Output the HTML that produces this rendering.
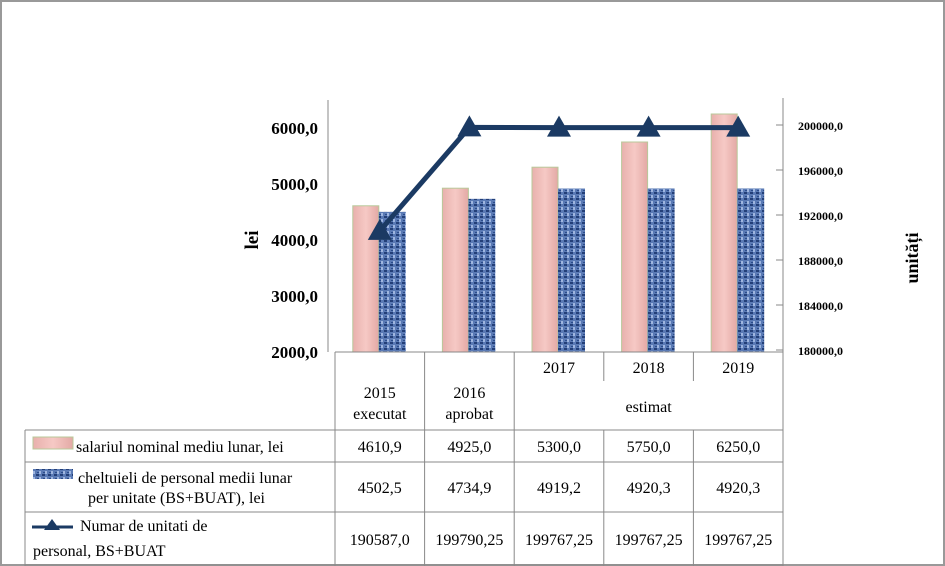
<!DOCTYPE html>
<html><head><meta charset="utf-8"><style>
body{margin:0;background:#fff;}
svg{display:block;}
svg text{font-family:"Liberation Serif",serif;}
</style></head><body>
<svg width="945" height="566" viewBox="0 0 945 566" font-family="Liberation Serif, serif">
<defs>
<linearGradient id="pinkG" x1="0" x2="1"><stop offset="0" stop-color="#e8b0ac"/><stop offset="0.5" stop-color="#f6c9c5"/><stop offset="1" stop-color="#e3a9a5"/></linearGradient>
<pattern id="blueP" width="6" height="6" patternUnits="userSpaceOnUse"><rect width="6" height="6" fill="#5a7ab5"/><rect x="0" y="0" width="3" height="2" fill="#233f78"/><rect x="3" y="3" width="2" height="3" fill="#9fb6e0"/><rect x="1" y="4" width="2" height="1" fill="#2c4c8a"/></pattern>
</defs>
<rect x="1" y="1" width="943" height="564" fill="#fff" stroke="#999" stroke-width="2"/>
<g id="plot"></g>
<text x="0" y="0" transform="translate(258,240) rotate(-90)" text-anchor="middle" font-weight="bold" font-size="19">lei</text>
<text x="0" y="0" transform="translate(918,258) rotate(-90)" text-anchor="middle" font-weight="bold" font-size="18">unități</text>
</svg>
<script>
const categories=["2015","2016","2017","2018","2019"];
const salary=[4610.9,4925.0,5300.0,5750.0,6250.0];
const costs=[4502.5,4734.9,4919.2,4920.3,4920.3];
const units=[190587.0,199790.25,199767.25,199767.25,199767.25];
const leftTicks=[2000,3000,4000,5000,6000];
const rightTicks=[180000,184000,188000,192000,196000,200000];
const salaryLabels=["4610,9","4925,0","5300,0","5750,0","6250,0"];
const costLabels=["4502,5","4734,9","4919,2","4920,3","4920,3"];
const unitLabels=["190587,0","199790,25","199767,25","199767,25","199767,25"];

const NS="http://www.w3.org/2000/svg";
const g=document.getElementById('plot');
const X0=335,X1=783,colW=(X1-X0)/5;
const yL=v=>352-(v-2000)*56/1000;
const yR=v=>350-(v-180000)*225/20000;
const cx=i=>X0+colW*(i+0.5);
function mk(tag,attrs,txt){const e=document.createElementNS(NS,tag);for(const k in attrs)e.setAttribute(k,attrs[k]);if(tag==='text')e.setAttribute('font-family','Liberation Serif, serif');if(txt!=null)e.textContent=txt;g.appendChild(e);return e;}

let e=mk('line',{x1:X0-7,y1:100,x2:X0-7,y2:352,stroke:'#888'});


e=mk('line',{x1:X1,y1:98,x2:X1,y2:352,stroke:'#888'});


leftTicks.forEach(t=>{
  const el=mk('text',{x:318,y:yL(t)+6,'text-anchor':'end','font-weight':'bold','font-size':'17'},t.toFixed(1).replace('.',','));
  
  
});
rightTicks.forEach(t=>{
  const tk=mk('line',{x1:X1-7,x2:X1,y1:yR(t),y2:yR(t),stroke:'#888'});
  
  
  const el=mk('text',{x:798,y:yR(t)+5,'font-weight':'bold','font-size':'12'},t.toFixed(1).replace('.',','));
  
  
});
categories.forEach((c,i)=>{
  const c0=cx(i);
  const p=mk('rect',{x:c0-27,y:yL(salary[i]),width:26,height:352-yL(salary[i]),fill:'url(#pinkG)',stroke:'#b8c89a','stroke-width':1});
  
  
  const b=mk('rect',{x:c0-1,y:yL(costs[i]),width:27,height:352-yL(costs[i]),fill:'url(#blueP)'});
  
  
});
const pts=units.map((v,i)=>cx(i)+','+yR(v)).join(' ');
e=mk('polyline',{points:pts,fill:'none',stroke:'#1b3a63','stroke-width':5});


units.forEach((v,i)=>{
  const x=cx(i),y=yR(v);
  const m=mk('polygon',{points:`${x},${y-12} ${x-12},${y+9} ${x+12},${y+9}`,fill:'#1b3a63'});
  
  
});
const L=25;
e=mk('line',{x1:X0,y1:352,x2:X1,y2:352,stroke:'#888'});


[430,462,512,565].forEach(y=>{const l=mk('line',{x1:L,x2:X1,y1:y,y2:y,stroke:'#888'});

});
e=mk('line',{x1:L,x2:L,y1:430,y2:566,stroke:'#888'});


for(let k=0;k<=5;k++){const x=X0+colW*k;
const l=mk('line',{x1:x,x2:x,y1:352,y2:(k==3||k==4)?381:566,stroke:'#888'});
if(k==3||k==4){mk('line',{x1:x,x2:x,y1:430,y2:566,stroke:'#888'});}

}
const T=(x,y,s,name,anchor)=>{const el=mk('text',{x:x,y:y,'text-anchor':anchor||'middle','font-size':'16'},s);return el;};
T(cx(0),398,'2015','category-2015');T(cx(0),419,'executat','category-2015-sub');
T(cx(1),398,'2016','category-2016');T(cx(1),419,'aprobat','category-2016-sub');
T(cx(2),373,'2017','category-2017');T(cx(3),373,'2018','category-2018');T(cx(4),373,'2019','category-2019');
T(cx(3),412,'estimat','category-estimat');
categories.forEach((c,i)=>{
  T(cx(i),452,salaryLabels[i],'salary-value-'+c);
  T(cx(i),493,costLabels[i],'costs-value-'+c);
  T(cx(i),545,unitLabels[i],'units-value-'+c);
});
e=mk('rect',{x:33,y:437,width:40,height:12,fill:'url(#pinkG)',stroke:'#b8c89a'});


e=mk('rect',{x:33,y:469,width:40,height:10,fill:'url(#blueP)'});


e=mk('line',{x1:32,x2:73,y1:527,y2:527,stroke:'#1b3a63','stroke-width':3});


e=mk('polygon',{points:'52,519 44,530 60,530',fill:'#1b3a63'});


T(76,452,'salariul nominal mediu lunar, lei','legend-salary','start');
T(78,483,'cheltuieli de personal medii lunar','legend-costs-1','start');
T(88,503,'per unitate (BS+BUAT), lei','legend-costs-2','start');
T(80,531,'Numar de unitati de','legend-units-1','start');
T(33,556,'personal, BS+BUAT','legend-units-2','start');
</script>
</body></html>
